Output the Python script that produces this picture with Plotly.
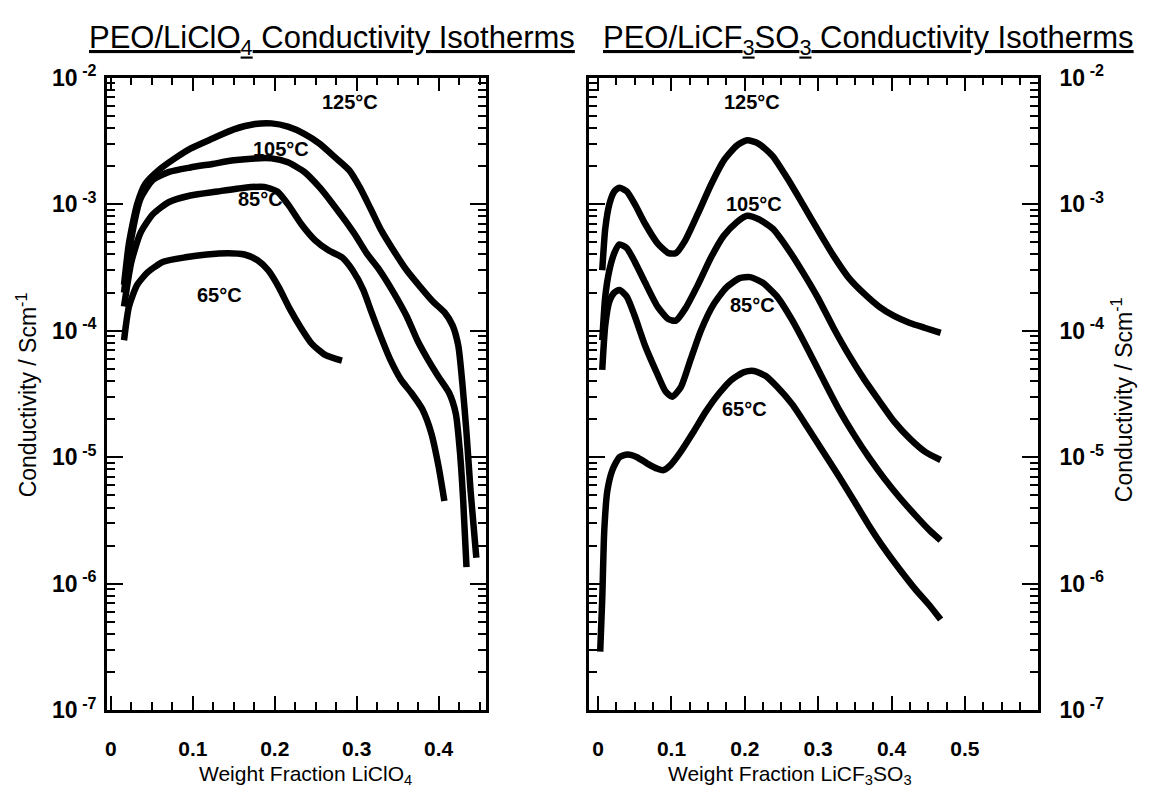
import math
import plotly.graph_objects as go

W, H = 1151, 805

# ---------------- data: PEO/LiClO4 (left panel) ----------------
l125_x = [0.016, 0.022, 0.032, 0.042, 0.058, 0.078, 0.097, 0.124, 0.15, 0.176, 0.196, 0.216, 0.236, 0.255,
          0.275, 0.291, 0.304, 0.317, 0.330, 0.345, 0.361, 0.378, 0.393, 0.407, 0.417, 0.424, 0.429, 0.434,
          0.439, 0.446]
l125_y = [2.3e-4, 4.9e-4, 1.0e-3, 1.45e-3, 1.85e-3, 2.3e-3, 2.75e-3, 3.3e-3, 3.9e-3, 4.3e-3, 4.35e-3, 4.1e-3,
          3.6e-3, 3.0e-3, 2.3e-3, 1.85e-3, 1.35e-3, 9.2e-4, 6.2e-4, 4.3e-4, 3.0e-4, 2.2e-4, 1.7e-4, 1.4e-4,
          1.1e-4, 7.6e-5, 3.8e-5, 1.56e-5, 5.4e-6, 1.6e-6]

l105_x = [0.016, 0.025, 0.036, 0.051, 0.071, 0.097, 0.124, 0.15, 0.176, 0.196, 0.216, 0.236, 0.255, 0.271,
          0.286, 0.299, 0.312, 0.328, 0.345, 0.361, 0.374, 0.387, 0.40, 0.413, 0.421, 0.426, 0.43, 0.434]
l105_y = [2.0e-4, 5.4e-4, 1.1e-3, 1.55e-3, 1.8e-3, 1.95e-3, 2.08e-3, 2.22e-3, 2.3e-3, 2.3e-3, 2.14e-3, 1.8e-3,
          1.35e-3, 1.0e-3, 7.4e-4, 5.6e-4, 4.1e-4, 3.0e-4, 2.0e-4, 1.3e-4, 8.4e-5, 5.9e-5, 4.3e-5, 3.2e-5,
          2.2e-5, 1.1e-5, 4.5e-6, 1.35e-6]

l85_x = [0.016, 0.025, 0.036, 0.051, 0.071, 0.097, 0.13, 0.163, 0.187, 0.203, 0.216, 0.232, 0.249, 0.266,
         0.282, 0.295, 0.308, 0.318, 0.329, 0.341, 0.354, 0.367, 0.38, 0.391, 0.40, 0.407]
l85_y = [1.55e-4, 3.5e-4, 5.9e-4, 8.3e-4, 1.04e-3, 1.17e-3, 1.26e-3, 1.35e-3, 1.37e-3, 1.26e-3, 1.0e-3, 7.0e-4,
         5.2e-4, 4.3e-4, 3.8e-4, 3.0e-4, 2.1e-4, 1.4e-4, 9.1e-5, 5.9e-5, 4.1e-5, 3.2e-5, 2.4e-5, 1.55e-5,
         8.4e-6, 4.5e-6]

l65_x = [0.016, 0.022, 0.032, 0.045, 0.064, 0.091, 0.117, 0.143, 0.163, 0.179, 0.192, 0.205, 0.218, 0.232,
         0.245, 0.262, 0.282]
l65_y = [8.4e-5, 1.55e-4, 2.3e-4, 2.9e-4, 3.5e-4, 3.8e-4, 4.0e-4, 4.1e-4, 4.0e-4, 3.6e-4, 3.0e-4, 2.2e-4,
         1.5e-4, 1.05e-4, 7.9e-5, 6.4e-5, 5.8e-5]

# ---------------- data: PEO/LiCF3SO3 (right panel) ----------------
r125_x = [0.0056, 0.0097, 0.0153, 0.022, 0.029, 0.039, 0.05, 0.064, 0.081, 0.096, 0.106, 0.119, 0.136, 0.154,
          0.171, 0.189, 0.203, 0.219, 0.238, 0.258, 0.279, 0.30, 0.321, 0.342, 0.363, 0.383, 0.404, 0.425,
          0.446, 0.467]
r125_y = [3.0e-4, 6.4e-4, 1.0e-3, 1.26e-3, 1.35e-3, 1.26e-3, 1.0e-3, 7.0e-4, 4.9e-4, 4.1e-4, 4.1e-4, 5.2e-4,
          8.4e-4, 1.43e-3, 2.2e-3, 2.9e-3, 3.2e-3, 3.0e-3, 2.4e-3, 1.6e-3, 1.0e-3, 6.2e-4, 3.9e-4, 2.6e-4,
          1.95e-4, 1.55e-4, 1.3e-4, 1.15e-4, 1.05e-4, 9.6e-5]

r105_x = [0.0056, 0.0097, 0.0153, 0.022, 0.029, 0.039, 0.05, 0.064, 0.081, 0.096, 0.106, 0.119, 0.136, 0.154,
          0.171, 0.189, 0.203, 0.219, 0.238, 0.258, 0.279, 0.30, 0.321, 0.342, 0.363, 0.383, 0.404, 0.425,
          0.446, 0.467]
r105_y = [8.4e-5, 1.86e-4, 3.0e-4, 4.1e-4, 4.8e-4, 4.5e-4, 3.5e-4, 2.4e-4, 1.55e-4, 1.23e-4, 1.2e-4, 1.5e-4,
          2.3e-4, 3.8e-4, 5.6e-4, 7.2e-4, 8.1e-4, 7.6e-4, 6.4e-4, 4.5e-4, 2.9e-4, 1.8e-4, 1.05e-4, 6.4e-5,
          4.1e-5, 2.8e-5, 1.9e-5, 1.4e-5, 1.1e-5, 9.5e-6]

r85_x = [0.0056, 0.0097, 0.0153, 0.022, 0.029, 0.039, 0.05, 0.064, 0.081, 0.092, 0.101, 0.113, 0.126, 0.14,
         0.157, 0.175, 0.193, 0.207, 0.224, 0.244, 0.265, 0.286, 0.307, 0.328, 0.349, 0.369, 0.39, 0.411,
         0.432, 0.453, 0.467]
r85_y = [4.9e-5, 1.1e-4, 1.7e-4, 2.0e-4, 2.1e-4, 1.86e-4, 1.3e-4, 7.6e-5, 4.5e-5, 3.3e-5, 3.0e-5, 3.6e-5,
         5.9e-5, 1.0e-4, 1.6e-4, 2.2e-4, 2.6e-4, 2.65e-4, 2.4e-4, 1.86e-4, 1.2e-4, 7.1e-5, 4.1e-5, 2.4e-5,
         1.5e-5, 1.0e-5, 6.8e-6, 4.8e-6, 3.5e-6, 2.6e-6, 2.2e-6]

r65_x = [0.0028, 0.0056, 0.0083, 0.0125, 0.0194, 0.029, 0.04, 0.053, 0.067, 0.081, 0.089, 0.099, 0.1125, 0.129,
         0.147, 0.165, 0.182, 0.199, 0.2125, 0.228, 0.244, 0.265, 0.286, 0.307, 0.328, 0.349, 0.369, 0.39,
         0.411, 0.432, 0.453, 0.467]
r65_y = [2.9e-7, 7.6e-7, 2.6e-6, 5.4e-6, 7.9e-6, 1.0e-5, 1.05e-5, 1.0e-5, 8.9e-6, 8.1e-6, 7.9e-6, 8.7e-6,
         1.1e-5, 1.55e-5, 2.3e-5, 3.2e-5, 4.1e-5, 4.7e-5, 4.8e-5, 4.4e-5, 3.6e-5, 2.6e-5, 1.7e-5, 1.1e-5,
         7.1e-6, 4.5e-6, 2.9e-6, 1.9e-6, 1.3e-6, 9.1e-7, 6.6e-7, 5.2e-7]

# temperature labels: (text, x, y)
left_labels = [("125°C", 0.292, 6.4e-3), ("105°C", 0.208, 2.75e-3), ("85°C", 0.182, 1.1e-3), ("65°C", 0.132, 1.9e-4)]
right_labels = [("125°C", 0.21, 6.4e-3), ("105°C", 0.2125, 1.0e-3), ("85°C", 0.21, 1.6e-4), ("65°C", 0.20, 2.4e-5)]

y_tickvals = [1e-7, 1e-6, 1e-5, 1e-4, 1e-3, 1e-2]
y_ticktext = ["10\u2009<sup>-7</sup>", "10\u2009<sup>-6</sup>", "10\u2009<sup>-5</sup>",
              "10\u2009<sup>-4</sup>", "10\u2009<sup>-3</sup>", "10\u2009<sup>-2</sup>"]
y_minor = [m * 10.0 ** e for e in range(-7, -2) for m in range(2, 10)]
xl_tickvals = [0, 0.1, 0.2, 0.3, 0.4]
xl_ticktext = ["0", "0.1", "0.2", "0.3", "0.4"]
xr_tickvals = [0, 0.1, 0.2, 0.3, 0.4, 0.5]
xr_ticktext = ["0", "0.1", "0.2", "0.3", "0.4", "0.5"]

FONT = "Liberation Sans"

fig = go.Figure()
line = dict(color="black", width=6.5, shape="spline", smoothing=0.6)
for xs, ys in [(l125_x, l125_y), (l105_x, l105_y), (l85_x, l85_y), (l65_x, l65_y)]:
    fig.add_trace(go.Scatter(x=xs, y=ys, mode="lines", line=line, xaxis="x", yaxis="y",
                             showlegend=False, hoverinfo="skip"))
for xs, ys in [(r125_x, r125_y), (r105_x, r105_y), (r85_x, r85_y), (r65_x, r65_y)]:
    fig.add_trace(go.Scatter(x=xs, y=ys, mode="lines", line=line, xaxis="x2", yaxis="y2",
                             showlegend=False, hoverinfo="skip"))


def px(v):
    return v / W


def py(v):
    return 1 - v / H


top, bottom = 63, 720
xtickfont = dict(family=FONT, size=21, color="black", weight="bold")
ytickfont = dict(family=FONT, size=23, color="black", weight="bold")
common = dict(showline=True, linecolor="black", linewidth=2.5, ticks="inside", tickcolor="black",
              tickwidth=2, mirror="ticks", showgrid=False, zeroline=False)

yaxis_common = dict(common, type="log", range=[-7, -2], tickmode="array", tickvals=y_tickvals,
                    ticktext=y_ticktext, ticklen=16, domain=[py(bottom), py(top)], tickfont=ytickfont,
                    minor=dict(tickmode="array", tickvals=y_minor, ticks="inside", ticklen=8,
                               tickwidth=2, tickcolor="black", showgrid=False))
xminor = dict(dtick=0.025, tick0=0, ticks="inside", ticklen=8, tickwidth=2, tickcolor="black", showgrid=False)

fig.update_layout(
    width=W, height=H,
    margin=dict(l=0, r=0, t=0, b=0),
    paper_bgcolor="white", plot_bgcolor="white",
    xaxis=dict(common, domain=[px(105), px(485)], range=[-0.005, 0.458], anchor="y",
               tickmode="array", tickvals=xl_tickvals, ticktext=xl_ticktext, ticklen=14,
               tickfont=xtickfont, minor=xminor, ticklabelstandoff=18),
    yaxis=dict(yaxis_common, anchor="x", side="left", ticklabelstandoff=3),
    xaxis2=dict(common, domain=[px(588), px(1038)], range=[-0.0125, 0.6], anchor="y2",
                tickmode="array", tickvals=xr_tickvals, ticktext=xr_ticktext, ticklen=14,
                tickfont=xtickfont, minor=xminor, ticklabelstandoff=18),
    yaxis2=dict(yaxis_common, anchor="x2", side="right", ticklabelstandoff=14),
)

ann = []


def paper_text(text, x, y, size, angle=0):
    return dict(text=text, x=px(x), y=py(y), xref="paper", yref="paper", showarrow=False,
                xanchor="center", yanchor="middle", textangle=angle,
                font=dict(family=FONT, size=size, color="black"))


# titles
ann.append(paper_text("<u>PEO/LiClO<sub>4</sub> Conductivity Isotherms</u>", 331, 24, 31))
ann.append(paper_text("<u>PEO/LiCF<sub>3</sub>SO<sub>3</sub> Conductivity Isotherms</u>", 868, 24, 31))
# axis titles
ann.append(paper_text("Weight Fraction LiClO<sub>4</sub>", 304, 787, 21))
ann.append(paper_text("Weight Fraction LiCF<sub>3</sub>SO<sub>3</sub>", 789, 787, 21))
ann.append(paper_text("Conductivity / Scm<sup>-1</sup>", 25, 392, 23, -90))
ann.append(paper_text("Conductivity / Scm<sup>-1</sup>", 1122, 398, 23, -90))

for t, x, y in left_labels:
    ann.append(dict(text=t, x=x, y=math.log10(y), xref="x", yref="y", showarrow=False,
                    xanchor="center", yanchor="middle",
                    font=dict(family=FONT, size=20, color="black", weight="bold")))
for t, x, y in right_labels:
    ann.append(dict(text=t, x=x, y=math.log10(y), xref="x2", yref="y2", showarrow=False,
                    xanchor="center", yanchor="middle",
                    font=dict(family=FONT, size=20, color="black", weight="bold")))
fig.update_layout(annotations=ann)

fig.write_html("out.html", config={"displayModeBar": False},
               post_script="document.body.style.margin='0px';")
